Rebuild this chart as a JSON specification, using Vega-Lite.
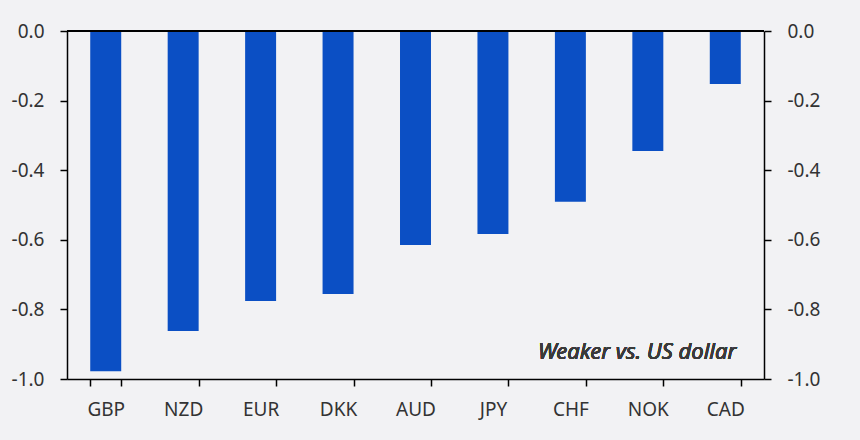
{
  "$schema": "https://vega.github.io/schema/vega-lite/v6.json",
  "width": 697,
  "height": 348,
  "autosize": "none",
  "padding": {"left": 67, "top": 31, "right": 96, "bottom": 61},
  "background": "#f2f2f4",
  "config": {
    "view": {"stroke": null},
    "font": "Noto Sans",
    "axis": {
      "labelFont": "Noto Sans",
      "labelFontSize": 19,
      "labelColor": "#333333",
      "domainColor": "#000000",
      "domainWidth": 1.5,
      "tickColor": "#000000",
      "tickWidth": 1.5,
      "tickSize": 7,
      "grid": false,
      "title": null
    }
  },
  "data": {
    "values": [
      {"currency": "GBP", "value": -0.978},
      {"currency": "NZD", "value": -0.862},
      {"currency": "EUR", "value": -0.776},
      {"currency": "DKK", "value": -0.756},
      {"currency": "AUD", "value": -0.615},
      {"currency": "JPY", "value": -0.583},
      {"currency": "CHF", "value": -0.491},
      {"currency": "NOK", "value": -0.345},
      {"currency": "CAD", "value": -0.152}
    ]
  },
  "layer": [
    {
      "layer": [
        {
          "mark": {"type": "bar", "color": "#0b4fc4"},
          "encoding": {
            "x": {
              "field": "currency",
              "type": "nominal",
              "sort": null,
              "scale": {"paddingInner": 0.6, "paddingOuter": 0.3},
              "axis": {"orient": "bottom", "labelAngle": 0, "tickBand": "extent", "labelPadding": 14}
            },
            "y": {
              "field": "value",
              "type": "quantitative",
              "scale": {"domain": [-1, 0], "nice": false},
              "axis": {"orient": "left", "values": [0, -0.2, -0.4, -0.6, -0.8, -1.0], "labelExpr": "replace(format(datum.value, '.1f'), '−', '-')", "labelPadding": 16}
            }
          }
        },
        {
          "mark": {"type": "rule", "color": "#000000", "strokeWidth": 1.5},
          "encoding": {"y": {"datum": 0, "type": "quantitative"}}
        },
        {
          "mark": {"type": "text", "align": "right", "baseline": "middle", "font": "Noto Sans", "fontStyle": "italic", "fontWeight": "normal", "fontSize": 22, "color": "#3a3a3a", "dx": 11},
          "encoding": {
            "x": {"datum": "CAD", "type": "nominal"},
            "y": {"datum": -0.923, "type": "quantitative"},
            "text": {"value": "Weaker vs. US dollar"}
          }
        }
      ]
    },
    {
      "mark": {"type": "rule", "strokeWidth": 0},
      "encoding": {
        "y": {
          "datum": 0,
          "type": "quantitative",
          "scale": {"domain": [-1, 0], "nice": false},
          "axis": {"orient": "right", "values": [0, -0.2, -0.4, -0.6, -0.8, -1.0], "labelExpr": "replace(format(datum.value, '.1f'), '−', '-')", "labelPadding": 16}
        }
      }
    }
  ],
  "resolve": {"axis": {"y": "independent"}}
}
